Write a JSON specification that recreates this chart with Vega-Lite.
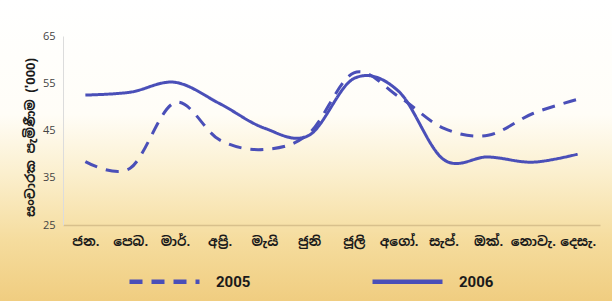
{
  "$schema": "https://vega.github.io/schema/vega-lite/v6.json",
  "width": 612,
  "height": 301,
  "padding": 0,
  "autosize": {"type": "none"},
  "background": "#ffffff",
  "config": {
    "view": {
      "stroke": null,
      "fill": {
        "gradient": "linear",
        "x1": 0, "y1": 0, "x2": 0, "y2": 1,
        "stops": [
          {"offset": 0, "color": "#ffffff"},
          {"offset": 0.38, "color": "#fffdf7"},
          {"offset": 0.58, "color": "#fbefcd"},
          {"offset": 0.8, "color": "#f5dc9d"},
          {"offset": 1, "color": "#f0cd80"}
        ]
      }
    },
    "font": "Noto Sans Sinhala, Noto Sans, sans-serif"
  },
  "data": {
    "values": [
      {"month": "ජන.", "year": "2005", "value": 38.4},
      {"month": "පෙබ.", "year": "2005", "value": 37.0},
      {"month": "මාර්.", "year": "2005", "value": 50.9},
      {"month": "අප්‍රි.", "year": "2005", "value": 43.0},
      {"month": "මැයි", "year": "2005", "value": 41.0},
      {"month": "ජුනි", "year": "2005", "value": 44.4},
      {"month": "ජූලි", "year": "2005", "value": 57.2},
      {"month": "අගෝ.", "year": "2005", "value": 52.2},
      {"month": "සැප්.", "year": "2005", "value": 45.5},
      {"month": "ඔක්.", "year": "2005", "value": 44.0},
      {"month": "නොවැ.", "year": "2005", "value": 48.6},
      {"month": "දෙසැ.", "year": "2005", "value": 51.6},
      {"month": "ජන.", "year": "2006", "value": 52.5},
      {"month": "පෙබ.", "year": "2006", "value": 53.1},
      {"month": "මාර්.", "year": "2006", "value": 55.2},
      {"month": "අප්‍රි.", "year": "2006", "value": 50.7},
      {"month": "මැයි", "year": "2006", "value": 45.5},
      {"month": "ජුනි", "year": "2006", "value": 44.0},
      {"month": "ජූලි", "year": "2006", "value": 56.0},
      {"month": "අගෝ.", "year": "2006", "value": 53.3},
      {"month": "සැප්.", "year": "2006", "value": 38.9},
      {"month": "ඔක්.", "year": "2006", "value": 39.4},
      {"month": "නොවැ.", "year": "2006", "value": 38.3},
      {"month": "දෙසැ.", "year": "2006", "value": 40.0}
    ]
  },
  "mark": {"type": "line", "interpolate": "cardinal", "tension": 0, "strokeWidth": 3},
  "encoding": {
    "x": {
      "field": "month",
      "type": "ordinal",
      "sort": null,
      "scale": {"type": "point", "range": [63, 600], "padding": 0.5},
      "axis": {
        "title": null,
        "offset": -76,
        "labelAngle": 0,
        "labelFontSize": 13,
        "labelFontWeight": "bold",
        "labelColor": "#1a1a1a",
        "labelPadding": 10,
        "ticks": false,
        "domainColor": "#d8c08c",
        "domainWidth": 1.5,
        "grid": false
      }
    },
    "y": {
      "field": "value",
      "type": "quantitative",
      "scale": {"domain": [25, 65], "range": [225, 36], "nice": false, "zero": false},
      "axis": {
        "title": "සංචාරක පැමිණීම ('000)",
        "values": [25, 35, 45, 55, 65],
        "offset": -63,
        "grid": false,
        "ticks": false,
        "domainColor": "#dcdcdc",
        "labelFontSize": 11,
        "labelColor": "#444444",
        "labelFont": "Open Sans",
        "labelPadding": 8,
        "titleFontSize": 13,
        "titleFontWeight": "bold",
        "titleColor": "#1a1a1a",
        "titlePadding": 5,
        "titleY": 137
      }
    },
    "color": {
      "field": "year",
      "type": "nominal",
      "scale": {"range": ["#4a4fb8", "#4a4fb8"]},
      "legend": {
        "title": null,
        "orient": "none",
        "legendX": 127,
        "legendY": 244,
        "direction": "horizontal",
        "symbolType": "stroke",
        "symbolSize": 4900,
        "symbolStrokeWidth": 4.5,
        "labelFont": "Roboto",
        "labelFontSize": 15,
        "labelFontWeight": "bold",
        "labelColor": "#1a1a1a",
        "labelOffset": 14,
        "columnPadding": 112,
        "padding": 0
      }
    },
    "strokeDash": {
      "field": "year",
      "type": "nominal",
      "scale": {"range": [[13, 9], [1, 0]]},
      "legend": {
        "title": null,
        "orient": "none",
        "legendX": 127,
        "legendY": 244,
        "direction": "horizontal",
        "symbolType": "stroke",
        "symbolSize": 4900,
        "symbolStrokeWidth": 4.5,
        "labelFont": "Roboto",
        "labelFontSize": 15,
        "labelFontWeight": "bold",
        "labelColor": "#1a1a1a",
        "labelOffset": 14,
        "columnPadding": 112,
        "padding": 0
      }
    }
  }
}
